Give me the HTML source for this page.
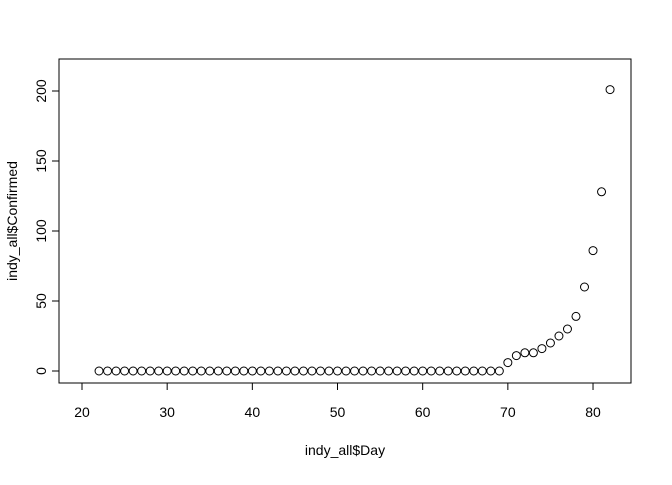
<!DOCTYPE html>
<html><head><meta charset="utf-8"><style>body{margin:0;background:#fff}svg text{font-family:"Liberation Sans",Arial,sans-serif;font-size:14px;fill:#000}</style></head>
<body>
<svg width="672" height="480" id="c">
<rect x="59" y="59" width="572" height="324" fill="none" stroke="#000"/>
<text x="345" y="455" text-anchor="middle">indy_all$Day</text>
<text transform="translate(17,221) rotate(-90)" text-anchor="middle">indy_all$Confirmed</text>
</svg>
<script>
const days=[22,23,24,25,26,27,28,29,30,31,32,33,34,35,36,37,38,39,40,41,42,43,44,45,46,47,48,49,50,51,52,53,54,55,56,57,58,59,60,61,62,63,64,65,66,67,68,69,70,71,72,73,74,75,76,77,78,79,80,81,82];
const confirmed=[0,0,0,0,0,0,0,0,0,0,0,0,0,0,0,0,0,0,0,0,0,0,0,0,0,0,0,0,0,0,0,0,0,0,0,0,0,0,0,0,0,0,0,0,0,0,0,0,6,11,13,13,16,20,25,30,39,60,86,128,201];
const xTicks=[20,30,40,50,60,70,80];
const yTicks=[0,50,100,150,200];
const ns="http://www.w3.org/2000/svg",svg=document.getElementById('c');
const X=v=>82+(v-20)*8.517, Y=v=>371-v*1.4;
function mk(t,a){const e=document.createElementNS(ns,t);for(const k in a)e.setAttribute(k,a[k]);svg.appendChild(e);return e;}
mk('line',{x1:X(xTicks[0]),x2:X(xTicks[xTicks.length-1]),y1:383,y2:383,stroke:'#000'});
mk('line',{x1:59,x2:59,y1:Y(yTicks[0]),y2:Y(yTicks[yTicks.length-1]),stroke:'#000'});
xTicks.forEach(v=>{
 const l=mk('line',{x1:X(v),x2:X(v),y1:383,y2:390,stroke:'#000'});
 
 
 const t=mk('text',{x:X(v),y:417,'text-anchor':'middle'});t.textContent=v;
 
 
});
yTicks.forEach(v=>{
 const l=mk('line',{x1:52,x2:59,y1:Y(v),y2:Y(v),stroke:'#000'});
 
 
 const t=mk('text',{transform:`translate(46,${Y(v)}) rotate(-90)`,'text-anchor':'middle'});t.textContent=v;
 
 
});
days.forEach((d,i)=>{
 const c=mk('circle',{cx:X(d),cy:Y(confirmed[i]),r:4,fill:'none',stroke:'#000','stroke-width':1});
 
 
});
</script>
</body></html>
